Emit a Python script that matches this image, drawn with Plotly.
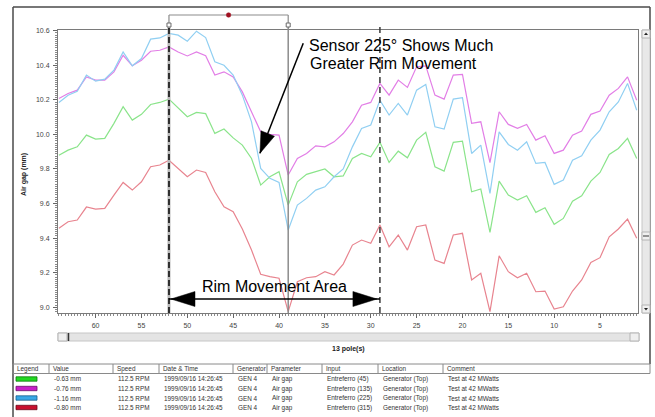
import plotly.graph_objects as go

# ---- data: air gap per pole, four sensors (pole 64 -> pole 1) ----
poles = list(range(64, 0, -1))

gap_45 = [9.880, 9.909, 9.928, 9.996, 9.973, 9.977, 10.064, 10.160, 10.083, 10.116, 10.173, 10.185, 10.204, 10.150, 10.102, 10.127, 10.120,
          10.006, 10.031, 9.980, 9.938, 9.861, 9.707, 9.755, 9.784, 9.591, 9.726, 9.769, 9.784, 9.800, 9.755, 9.760,
          9.861, 9.890, 9.871, 9.954, 9.838, 9.903, 9.865, 9.967, 10.012, 9.813, 9.788, 9.954, 9.961, 9.668, 9.684, 9.434,
          9.730, 9.649, 9.620, 9.645, 9.549, 9.576, 9.480, 9.514, 9.614, 9.645, 9.730, 9.780, 9.884, 9.919, 9.977, 9.861]

gap_135 = [10.208, 10.237, 10.256, 10.333, 10.314, 10.314, 10.362, 10.458, 10.397, 10.429, 10.481, 10.487, 10.506, 10.477, 10.454, 10.477, 10.455,
           10.343, 10.362, 10.333, 10.246, 10.131, 10.015, 10.000, 9.996, 9.765, 9.861, 9.890, 9.934, 9.928, 9.957, 10.005,
           10.073, 10.169, 10.185, 10.295, 10.227, 10.314, 10.272, 10.391, 10.397, 10.227, 10.204, 10.343, 10.347, 10.064, 10.073, 9.837,
           10.131, 10.058, 10.035, 10.058, 9.967, 9.992, 9.890, 9.909, 9.996, 10.019, 10.116, 10.135, 10.227, 10.266, 10.333, 10.198]

gap_225 = [10.185, 10.227, 10.250, 10.343, 10.308, 10.320, 10.372, 10.477, 10.397, 10.439, 10.551, 10.558, 10.584, 10.574, 10.539, 10.597, 10.560,
           10.420, 10.400, 10.343, 10.227, 10.073, 9.803, 9.746, 9.722, 9.447, 9.591, 9.630, 9.678, 9.697, 9.755, 9.800,
           9.928, 10.035, 10.054, 10.198, 10.112, 10.179, 10.112, 10.256, 10.289, 10.044, 10.031, 10.204, 10.212, 9.890, 9.938, 9.659,
           10.015, 9.942, 9.909, 9.957, 9.832, 9.838, 9.711, 9.736, 9.851, 9.876, 9.967, 10.025, 10.131, 10.188, 10.295, 10.140]

gap_315 = [9.457, 9.495, 9.505, 9.580, 9.568, 9.572, 9.649, 9.722, 9.678, 9.726, 9.813, 9.823, 9.851, 9.803, 9.755, 9.794, 9.780,
           9.668, 9.581, 9.553, 9.453, 9.331, 9.191, 9.177, 9.168, 8.975, 9.148, 9.171, 9.177, 9.206, 9.187, 9.250,
           9.360, 9.389, 9.370, 9.476, 9.350, 9.418, 9.331, 9.466, 9.476, 9.273, 9.254, 9.418, 9.428, 9.158, 9.197, 8.975,
           9.298, 9.206, 9.171, 9.197, 9.090, 9.094, 8.990, 9.003, 9.094, 9.158, 9.260, 9.287, 9.408, 9.453, 9.510, 9.399]

series = [gap_45, gap_135, gap_225, gap_315]
inputs = ["Entreferro (45)", "Entreferro (135)", "Entreferro (225)", "Entreferro (315)"]
values = ["-0.63 mm", "-0.76 mm", "-1.16 mm", "-0.80 mm"]
line_colors = ["#8ae48a", "#e27ee6", "#90cff2", "#e8848f"]
swatch_colors = ["#22d822", "#c81ec8", "#38a8e6", "#c8102e"]
swatch_edges = ["#0a7a0a", "#6a0a6a", "#14608a", "#6a0818"]

speed = "112.5 RPM"
date_time = "1999/09/16 14:26:45"
generator = "GEN 4"
parameter = "Air gap"
location = "Generator (Top)"
comment = "Test at 42 MWatts"

headers = ["Legend", "Value", "Speed", "Date & Time", "Generator", "Parameter", "Input", "Location", "Comment"]

# cursor poles
cursor_a, cursor_b, cursor_c = 52, 39, 29
arrow_level = 9.048

# ---- page geometry helpers (window pixels -> paper) ----
W, H = 655, 417
ML, MR, MT, MB = 58, 17, 30, 104
PW, PH = W - ML - MR, H - MT - MB


def px(x):
    return (x - ML) / PW


def py(y):
    return (H - MB - y) / PH


FONT = "Liberation Sans, Arial, sans-serif"

fig = go.Figure()
for vals, col, name in zip(series, line_colors, inputs):
    fig.add_trace(go.Scatter(x=poles, y=vals, mode="lines", name=name,
                             line=dict(color=col, width=1.2), hoverinfo="skip"))

shapes = []
annotations = []

# cursor lines
shapes.append(dict(type="line", xref="x", yref="paper", x0=cursor_a, x1=cursor_a, y0=0, y1=py(27),
                   line=dict(color="#b8b8b8", width=3)))
shapes.append(dict(type="line", xref="x", yref="paper", x0=cursor_a, x1=cursor_a, y0=0, y1=py(27),
                   line=dict(color="#2e2e2e", width=2, dash="6px,3px")))
shapes.append(dict(type="line", xref="x", yref="paper", x0=cursor_b, x1=cursor_b, y0=0, y1=py(27),
                   line=dict(color="#8c8c8c", width=1.5)))
shapes.append(dict(type="line", xref="x", yref="paper", x0=cursor_c, x1=cursor_c, y0=0, y1=py(26),
                   line=dict(color="#3a3a3a", width=1.5, dash="6px,4px")))

# bracket joining the two cursors
shapes.append(dict(type="line", xref="x", yref="paper", x0=cursor_a, x1=cursor_b, y0=py(15), y1=py(15),
                   line=dict(color="#8c8c8c", width=1.2)))
for c in (cursor_a, cursor_b):
    shapes.append(dict(type="line", xref="x", yref="paper", x0=c, x1=c, y0=py(15), y1=py(23),
                       line=dict(color="#8c8c8c", width=1.2)))
    shapes.append(dict(type="rect", xref="x", yref="paper", xsizemode="pixel", ysizemode="pixel",
                       xanchor=c, yanchor=py(25), x0=-2, x1=2, y0=-2, y1=2,
                       fillcolor="white", line=dict(color="#6a6a6a", width=1)))
shapes.append(dict(type="circle", xref="x", yref="paper", xsizemode="pixel", ysizemode="pixel",
                   xanchor=(cursor_a + cursor_b) / 2, yanchor=py(15), x0=-2.3, x1=2.3, y0=-2.3, y1=2.3,
                   fillcolor="#a01020", line=dict(color="#a01020", width=0.5)))

# double arrow spanning the rim movement area
shapes.append(dict(type="line", xref="x", yref="y", x0=cursor_a, x1=cursor_c, y0=arrow_level, y1=arrow_level,
                   line=dict(color="black", width=1.5)))
shapes.append(dict(type="path", xref="x", yref="y", xsizemode="pixel", ysizemode="pixel",
                   xanchor=cursor_a, yanchor=arrow_level, path="M 2,0 L 26,7.5 L 26,-7.5 Z",
                   fillcolor="black", line=dict(color="black", width=0.5)))
shapes.append(dict(type="path", xref="x", yref="y", xsizemode="pixel", ysizemode="pixel",
                   xanchor=cursor_c, yanchor=arrow_level, path="M -3,0 L -27,7.5 L -27,-7.5 Z",
                   fillcolor="black", line=dict(color="black", width=0.5)))

# pointer to the 225 degree trace
tip_pole, tip_val = 42.08, 9.891
tail_pole, tail_val = 37.36, 10.527
shapes.append(dict(type="line", xref="x", yref="y", x0=tail_pole, y0=tail_val, x1=tip_pole, y1=tip_val,
                   line=dict(color="black", width=1.5)))
shapes.append(dict(type="path", xref="x", yref="y", xsizemode="pixel", ysizemode="pixel",
                   xanchor=tip_pole, yanchor=tip_val, path="M 0,0 L 14.5,17 L 1,22.5 Z",
                   fillcolor="black", line=dict(color="black", width=0.5)))

annotations.append(dict(xref="paper", yref="paper", x=px(307), y=py(45), xanchor="left", yanchor="middle",
                        text="Sensor 225° Shows Much", showarrow=False,
                        font=dict(family=FONT, size=16, color="black")))
annotations.append(dict(xref="paper", yref="paper", x=px(308), y=py(63), xanchor="left", yanchor="middle",
                        text="Greater Rim Movement", showarrow=False,
                        font=dict(family=FONT, size=16, color="black")))
annotations.append(dict(xref="paper", yref="paper", x=px(274), y=py(286.5), xanchor="center", yanchor="middle",
                        text="Rim Movement Area", showarrow=False,
                        font=dict(family=FONT, size=16, color="black")))

# axis titles
annotations.append(dict(xref="paper", yref="paper", x=px(24), y=py(175), xanchor="center", yanchor="middle",
                        text="<b>Air gap (mm)</b>", textangle=-90, showarrow=False,
                        font=dict(family=FONT, size=7, color="#222")))
annotations.append(dict(xref="paper", yref="paper", x=0.5, y=py(349), xanchor="center", yanchor="middle",
                        text="<b>13 pole(s)</b>", showarrow=False,
                        font=dict(family=FONT, size=7, color="#222")))

# window frame
frame = dict(color="#4a4a4a", width=1.5)
shapes.append(dict(type="line", xref="paper", yref="paper", x0=px(13), x1=px(650), y0=py(7), y1=py(7), line=frame))
shapes.append(dict(type="line", xref="paper", yref="paper", x0=px(13), x1=px(13), y0=py(7), y1=py(417), line=frame))
shapes.append(dict(type="line", xref="paper", yref="paper", x0=px(650), x1=px(650), y0=py(7), y1=py(364), line=frame))

# horizontal scroll bar
shapes.append(dict(type="rect", xref="paper", yref="paper", x0=px(58), x1=px(639), y0=py(341), y1=py(333),
                   fillcolor="#e4e4e4", line=dict(color="#c6c6c6", width=1)))
shapes.append(dict(type="rect", xref="paper", yref="paper", x0=px(58), x1=px(67), y0=py(341), y1=py(333),
                   fillcolor="#efefef", line=dict(color="#b4b4b4", width=1)))
shapes.append(dict(type="line", xref="paper", yref="paper", x0=px(68.5), x1=px(68.5), y0=py(341), y1=py(333),
                   line=dict(color="#333", width=1.5)))
shapes.append(dict(type="rect", xref="paper", yref="paper", x0=px(630), x1=px(639), y0=py(341), y1=py(333),
                   fillcolor="#efefef", line=dict(color="#b4b4b4", width=1)))

# vertical scroll bar
shapes.append(dict(type="rect", xref="paper", yref="paper", x0=px(642), x1=px(650), y0=py(313), y1=py(30),
                   fillcolor="#e8e8e8", line=dict(color="#c6c6c6", width=1)))
for y0, y1 in ((30, 38), (305, 313), (232, 240)):
    shapes.append(dict(type="rect", xref="paper", yref="paper", x0=px(642), x1=px(650), y0=py(y1), y1=py(y0),
                       fillcolor="#f0f0f0", line=dict(color="#b4b4b4", width=1)))
shapes.append(dict(type="line", xref="paper", yref="paper", x0=px(643), x1=px(649), y0=py(236), y1=py(236),
                   line=dict(color="#555", width=1.2)))
shapes.append(dict(type="path", xref="paper", yref="paper", xsizemode="pixel", ysizemode="pixel",
                   xanchor=px(646), yanchor=py(34), path="M -2,-1 L 2,-1 L 0,1.5 Z", fillcolor="#222",
                   line=dict(width=0)))
shapes.append(dict(type="path", xref="paper", yref="paper", xsizemode="pixel", ysizemode="pixel",
                   xanchor=px(646), yanchor=py(309), path="M -2,1 L 2,1 L 0,-1.5 Z", fillcolor="#222",
                   line=dict(width=0)))

# legend table
col_x = [13, 49, 113, 159, 233, 267, 322, 378, 443]
head_top, head_bot = 364, 373.5
row_y = [379, 388.5, 398, 407.5]
tfont = dict(family=FONT, size=6.4, color="#333")
shapes.append(dict(type="rect", xref="paper", yref="paper", x0=px(13), x1=px(650), y0=py(head_bot), y1=py(head_top),
                   line=dict(color="#8a8a8a", width=1)))
for cx in col_x[1:]:
    shapes.append(dict(type="line", xref="paper", yref="paper", x0=px(cx), x1=px(cx), y0=py(head_bot), y1=py(head_top),
                       line=dict(color="#8a8a8a", width=1)))
for cx, h in zip(col_x, headers):
    annotations.append(dict(xref="paper", yref="paper", x=px(cx + 1.5), y=py((head_top + head_bot) / 2),
                            xanchor="left", yanchor="middle", text=h, showarrow=False, font=tfont))

for i, ry in enumerate(row_y):
    shapes.append(dict(type="rect", xref="paper", yref="paper", x0=px(16), x1=px(37), y0=py(ry + 2.2), y1=py(ry - 2.2),
                       fillcolor=swatch_colors[i], line=dict(color=swatch_edges[i], width=0.8)))
    cells = [values[i], speed, date_time, generator, parameter, inputs[i], location, comment]
    for cx, txt in zip(col_x[1:], cells):
        annotations.append(dict(xref="paper", yref="paper", x=px(cx + 3), y=py(ry),
                                xanchor="left", yanchor="middle", text=txt, showarrow=False, font=tfont))

fig.update_layout(
    width=W, height=H,
    margin=dict(l=ML, r=MR, t=MT, b=MB, pad=0),
    paper_bgcolor="white", plot_bgcolor="white",
    showlegend=False,
    shapes=shapes, annotations=annotations,
    font=dict(family=FONT, size=7, color="#444"),
    xaxis=dict(range=[64.1, 0.86], tick0=0, dtick=5, ticks="outside", ticklen=4, tickcolor="#666",
               showline=True, linecolor="#7a7a7a", linewidth=1, mirror=True,
               showgrid=False, zeroline=False, ticklabelstandoff=2,
               tickfont=dict(family=FONT, size=7, color="#444"),
               minor=dict(ticks="outside", ticklen=2, dtick=1 / 3, tickcolor="#8a8a8a")),
    yaxis=dict(range=[8.967, 10.604], tick0=9.0, dtick=0.2, tickformat=".1f", ticks="outside", ticklen=4,
               tickcolor="#666", showline=True, linecolor="#7a7a7a", linewidth=1, mirror=True,
               showgrid=False, zeroline=False, ticklabelstandoff=2,
               tickfont=dict(family=FONT, size=7, color="#444"),
               minor=dict(ticks="outside", ticklen=2, dtick=0.0125, tickcolor="#8a8a8a")),
)

fig.write_html("out.html")
